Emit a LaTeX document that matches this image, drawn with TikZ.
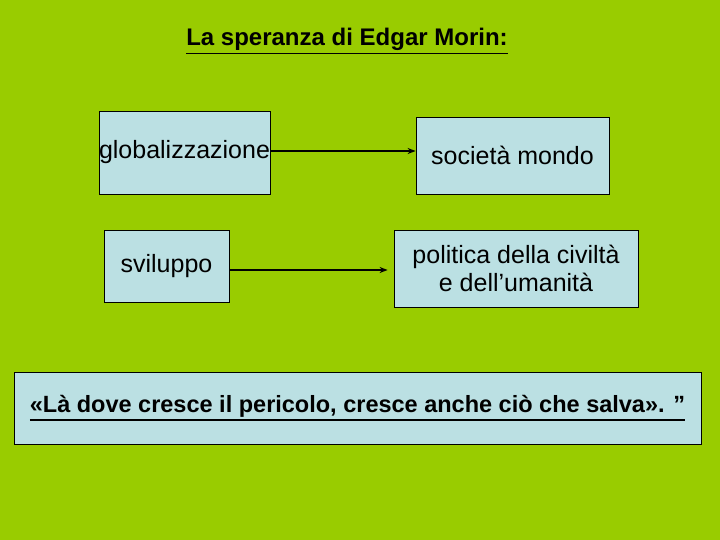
\documentclass[tikz,border=0pt]{standalone}
\usepackage{fontspec}
\setmainfont{Liberation Sans}
\usetikzlibrary{arrows.meta}
\usepackage{xcolor}
\definecolor{slidegreen}{HTML}{99CC00}
\definecolor{boxblue}{HTML}{BBE0E3}
\newcommand\thickul[2]{\vtop{\hbox{#2}\kern1.6pt\hrule height #1}}

\begin{document}
\begin{tikzpicture}[x=1pt,y=-1pt,>={Stealth[length=8pt,width=6pt]},
  font=\fontsize{25}{28}\selectfont,
  slidebox/.style={draw=black,line width=0.8pt,fill=boxblue,inner sep=0pt,align=center}]
\fill[slidegreen] (0,0) rectangle (720,540);
\useasboundingbox (0,0) rectangle (720,540);
% title
\node[font=\fontsize{24}{28}\selectfont\bfseries,anchor=base] (title) at (347,46) {\thickul{1.8pt}{La speranza di Edgar Morin:}};
% left column
\node[slidebox,minimum width=171pt,minimum height=83pt] (glob) at (184.5,152.5) {globalizzazione};
\node[slidebox,minimum width=125pt,minimum height=72pt] (svil) at (166.5,266) {sviluppo};
% right column
\node[slidebox,minimum width=193pt,minimum height=77pt] (soc) at (512.5,155.5) {società mondo};
\node[slidebox,minimum width=244pt,minimum height=77pt] (pol) at (516,268.5) {politica della civiltà\\ e dell’umanità};
% arrows
\draw[->,line width=2pt] ([yshift=1.5pt]glob.east) -- ([yshift=1.5pt]glob.east -| soc.west);
\draw[->,line width=2pt] ([yshift=-4pt]svil.east) -- ([xshift=-6pt,yshift=-4pt]svil.east -| pol.west);
% quote
\node[slidebox,minimum width=687pt,minimum height=72pt,font=\fontsize{23.5}{27}\selectfont\bfseries] (quote) at (357.5,408) {\thickul{2.4pt}{«Là dove cresce il pericolo, cresce anche ciò che salva». ”}};
\end{tikzpicture}
\end{document}
